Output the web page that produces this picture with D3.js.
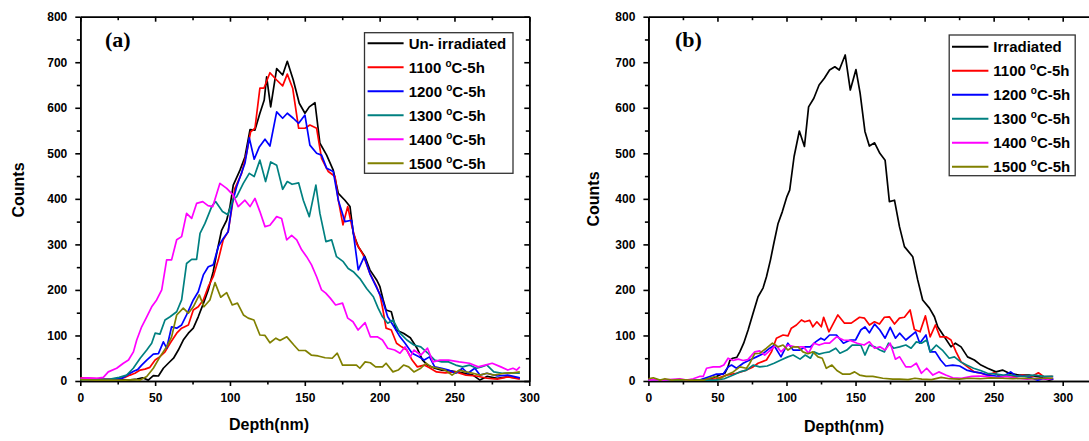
<!DOCTYPE html>
<html>
<head>
<meta charset="utf-8">
<script src="https://cdn.jsdelivr.net/npm/d3@7"></script>
<style>
  body { margin: 0; background: #fff; }
  svg { display: block; font-family: "Liberation Sans", Arial, sans-serif; }
</style>
</head>
<body>
<svg id="chart" width="1089" height="441"></svg>
<script>
/* ── Depth profiles: (a) un-irradiated + annealed, (b) irradiated + annealed ── */

// shared ticks
const xMajor = [0, 50, 100, 150, 200, 250, 300];
const xMinor = [25, 75, 125, 175, 225, 275];
const yMajor = [0, 100, 200, 300, 400, 500, 600, 700, 800];
const yMinor = [50, 150, 250, 350, 450, 550, 650, 750];

const seriesColors = ['#000000', '#ff0000', '#0000ff', '#008080', '#ff00ff', '#808000'];
const annealTemps = ['1100', '1200', '1300', '1400', '1500'];

// panel (a): [depth nm, counts]
const aUnirr = [[0,4],[8,3],[16,2],[24,3],[32,2],[38,4],[41.5,7],[45.4,2],[48.8,12],[52.2,11],[55.5,28],[58.8,39],[62.3,50],[65.5,68],[68.8,90],[72.2,105],[75.5,116],[78.8,141],[82.2,170],[85.5,200],[88.8,240],[91.1,280],[94.4,331],[97.8,353],[100,383],[102.2,430],[106.7,463],[110,492],[113.4,552],[116.7,551],[120,588],[122.9,617],[124.5,668],[127.2,602],[131.2,686],[135.2,672],[138.3,702],[142.3,661],[146.3,610],[150.1,588],[153,602],[156.8,611],[160.1,522],[164.6,496],[169,463],[172.4,412],[176.8,397],[180.2,383],[182.4,324],[185.7,295],[190.2,273],[193.5,244],[198,222],[200.2,207],[202.4,178],[204.3,156],[207.8,152],[211,112],[215.9,105],[220.5,95],[225,72],[228.7,46],[232,35],[236.8,28],[241.5,24],[248.4,22],[255.4,18],[262.4,13],[267,2],[271.7,10],[278.6,6],[285.6,9],[293.7,6]];
const a1100 = [[0,7],[5,6],[10,5],[15,4],[20,4],[25,5],[30,8],[33.2,13],[36.5,17],[40,24],[43.2,26],[46.5,30],[50,46],[53,53],[56.6,64],[60,83],[64.4,105],[67.7,116],[72.2,123],[75.5,156],[78.8,163],[82.2,178],[85.5,207],[88.8,229],[92.2,266],[95.5,310],[98.8,328],[103.3,423],[107.8,456],[111.1,500],[113.8,547],[116.7,555],[120,643],[122.7,643],[126.7,677],[131.2,661],[135.2,648],[138.3,674],[141.9,643],[145.9,555],[150.1,555],[153.4,562],[157.9,555],[161.2,489],[165.7,460],[170.2,449],[172.4,397],[175.5,343],[178.7,383],[181.5,339],[184.6,302],[189,277],[193.5,236],[198,207],[200.2,189],[202,160],[204.3,116],[207.8,112],[211.3,83],[214.7,75],[218.2,68],[221.7,46],[225.2,31],[229.8,35],[233.3,29],[238,20],[243.8,18],[250.8,20],[257.7,13],[264.7,11],[271.7,6],[278.6,4],[285.6,9],[293.7,4]];
const a1200 = [[0,4],[10,3],[20,3],[28,6],[33.2,17],[36,22],[38.3,25],[41,35],[44.4,46],[48.8,59],[52.2,60],[55.5,86],[57.7,72],[61,119],[64.4,116],[67.7,123],[71,145],[75.5,178],[78.8,196],[82.2,233],[85.5,251],[88.8,255],[92.2,295],[95.5,313],[98.8,328],[101.5,390],[104.5,427],[110,478],[112.9,534],[116.2,487],[119.6,514],[123.4,531],[126.7,516],[131.2,591],[135.2,577],[138.3,588],[142.3,577],[145.9,566],[150.1,584],[153.4,518],[157.9,500],[161.2,496],[164.6,467],[169,460],[172.4,397],[176.8,350],[181.3,353],[185.7,244],[189.7,273],[193.5,236],[198.7,200],[201.9,178],[205.4,141],[208.9,123],[213.6,97],[217,83],[221.7,61],[226.3,53],[229.8,46],[233.3,53],[236.8,31],[241.5,28],[246.1,24],[250.8,17],[255.4,28],[258.9,17],[263.6,28],[267,13],[271.7,17],[278.6,11],[285.6,13],[293.7,7]];
const a1300 = [[0,3],[10,3],[20,4],[26,8],[31,13],[35.4,28],[40,50],[44.4,68],[47.7,83],[50,105],[53.2,103],[56.6,134],[60,141],[64.4,152],[67.7,178],[71,258],[74.4,267],[77.7,267],[80,324],[83.3,346],[87.8,383],[90.4,394],[95,372],[98.6,365],[102,398],[104.5,405],[108.9,434],[112.9,456],[116.2,449],[120,485],[123.8,438],[127.2,481],[131.2,474],[135.2,421],[138.3,438],[141.5,432],[145.9,435],[149,397],[153,361],[157.4,430],[160.1,368],[164.1,306],[167.9,310],[171.2,273],[175.7,262],[179,247],[182.4,240],[186.8,225],[191.3,203],[195.8,185],[199,160],[201.9,141],[205.4,127],[208.9,134],[213.6,105],[218.2,90],[222.9,79],[227.5,75],[232,62],[236.8,46],[241.5,42],[246,42],[250.8,35],[255.4,31],[260,35],[264.7,28],[268,31],[271.7,35],[276.3,20],[282,17],[287.9,18],[293.7,17]];
const a1400 = [[0,6],[5,7],[10.9,6],[15.4,8],[18.7,20],[24.3,28],[28.8,39],[32.2,46],[35.5,64],[37.7,90],[41,119],[44.4,141],[47.7,163],[51,178],[54.4,200],[57.7,266],[61,266],[64.4,310],[67.7,317],[71,368],[74.4,357],[77.7,390],[81.8,394],[85.3,385],[88.5,383],[93.3,434],[97.8,423],[102.2,408],[105.5,383],[110,397],[113.4,383],[116.7,401],[120,372],[123.4,339],[126.7,342],[131.2,361],[134.5,357],[137.9,310],[141.2,320],[144.6,310],[147.9,288],[151.2,273],[154.5,255],[157.9,229],[161.2,200],[164,193],[167,182],[170.6,167],[175.2,171],[178.7,138],[182.2,130],[185.6,112],[190.3,128],[193.8,97],[198.4,97],[201.9,90],[205.4,72],[210,68],[213.6,61],[217,75],[220.5,53],[222.9,68],[227.5,57],[232,72],[235.6,42],[240.3,46],[246.1,46],[253.1,42],[260,39],[265.9,31],[270.5,35],[275.2,39],[281,31],[285.6,24],[289.1,28],[291.5,24],[293.7,31]];
const a1500 = [[0,3],[10,2],[20,2],[30,2],[36,3],[40,2],[44.4,10],[48.8,28],[53.2,53],[57.7,75],[61,97],[64.4,145],[68.8,160],[72.2,149],[75.5,163],[79.5,189],[82.6,163],[86.6,178],[90,216],[93.8,184],[97.8,194],[101.5,167],[105,171],[109,145],[112.2,138],[116,134],[120,101],[123.4,100],[126.7,84],[130.7,94],[133.4,89],[138,97],[142.7,79],[146,67],[150.4,67],[154.3,57],[158.9,55],[163.6,51],[168.3,50],[171.7,61],[175.2,35],[179.9,35],[184.5,35],[186.8,28],[190.3,42],[193.8,40],[197.3,31],[201.9,31],[204.3,39],[208.9,20],[212.4,24],[216,35],[219.4,31],[222.9,20],[227.5,28],[231,39],[234.5,31],[239.2,28],[243.8,24],[248.4,13],[253.1,24],[257.7,20],[262.4,17],[267,13],[271.7,17],[276.3,13],[283.3,17],[289.1,18],[293.7,20]];

// panel (b)
const bIrr = [[0,2],[5,3],[10,1],[15,2],[20,2],[25,1],[30,2],[37,2],[42,4],[46,6],[49.3,10],[52,14],[55.3,17],[57.5,30],[59,45],[61,50],[64,52],[66.2,64],[69,83],[72.2,112],[75.8,149],[79.4,185],[83,204],[85.5,229],[88.4,266],[90.8,302],[93.9,346],[97,372],[100.3,405],[102.3,419],[105.5,493],[109.3,549],[113,515],[116,602],[119.8,621],[123.6,650],[127.4,665],[131.2,683],[135,690],[138.2,683],[142.5,716],[146.2,639],[150.3,684],[153.3,632],[156.8,548],[160,516],[163.8,523],[167.6,500],[171.4,485],[174.5,394],[178.2,397],[181.8,339],[185.4,295],[191.4,273],[195,222],[198.6,178],[203.5,160],[207.1,141],[209.5,119],[214.3,97],[219.1,75],[222.3,83],[226.4,75],[231.1,53],[236,46],[240.8,35],[245.6,28],[251.7,20],[256.4,24],[261.3,17],[268.5,13],[275.7,13],[282.9,9],[290.2,2],[293.1,4]];
const b1100 = [[0,3],[10,2],[20,2],[30,2],[39.7,2],[49.3,5],[56.6,13],[63.8,17],[71,24],[75.8,31],[79.4,39],[85.5,46],[89.1,64],[92.7,94],[97.5,101],[101.1,99],[103.5,116],[107.2,123],[110.8,134],[113.2,130],[116.8,133],[119.1,119],[122,130],[125.2,119],[126.9,140],[130.7,108],[137.2,145],[142,127],[146.9,127],[152.9,140],[156.5,138],[160.1,123],[163.7,130],[167.3,125],[170.9,140],[174.5,141],[178.2,125],[181.8,138],[185.4,140],[189.5,156],[192.6,113],[196.7,108],[200.6,143],[204,97],[207.8,123],[211.2,97],[215.5,97],[219.1,90],[222.8,64],[226.4,42],[231.1,31],[236,20],[240.8,17],[245.6,13],[250.4,18],[255.3,9],[261.3,13],[266.1,9],[270.9,13],[277,9],[282.4,18],[286.6,9],[292.6,10]];
const b1200 = [[0,2],[10,2],[20,2],[30,2],[37,2],[44.5,10],[49.3,15],[54.1,15],[57.7,31],[60.2,35],[63.8,28],[68.6,39],[73.4,46],[78.3,53],[83,60],[87.9,72],[91,78],[96,53],[101,83],[104.8,68],[109.8,68],[113.6,75],[117.3,75],[121.1,86],[124.9,94],[127.4,90],[131.2,101],[136.2,101],[141.2,83],[146.2,90],[150,90],[153.8,112],[156.8,119],[160,106],[163.8,125],[167.6,112],[171.4,94],[175.1,118],[178.9,94],[181.9,105],[186.4,90],[193.5,108],[196.5,83],[201,101],[204,64],[207.8,64],[211.6,46],[215.3,33],[220.4,35],[225.4,33],[230.4,24],[235.4,20],[240.5,18],[245.5,13],[251.8,11],[256.8,10],[262.3,20],[266.8,10],[271.9,11],[276.9,7],[281.9,2],[286.9,6],[293.2,4]];
const b1300 = [[0,2],[10,2],[20,2],[30,2],[40,2],[48.6,2],[55,5],[61.4,13],[66.2,20],[71,24],[75.8,35],[80.6,31],[86,33],[91,39],[96,46],[101,53],[104.8,57],[109.8,48],[113.6,57],[117.3,50],[119.8,64],[123.6,59],[127.4,62],[131.2,64],[135.7,72],[138.7,61],[143.7,68],[147.5,79],[153.8,79],[156.8,57],[160,79],[163.8,75],[167.6,68],[170.9,64],[173.9,83],[177.6,72],[181.9,75],[186.4,79],[190.2,72],[194,86],[197.7,83],[201.5,90],[204,64],[208.5,79],[212.8,68],[217.8,50],[221.6,53],[226.1,42],[230.4,35],[235.4,28],[240.5,23],[245.5,17],[251.8,15],[256.8,13],[262,13],[266.8,11],[273.1,10],[279.4,13],[286.9,10],[293.2,10]];
const b1400 = [[0,2],[5,3],[10,2],[15,3],[22.8,5],[27.7,2],[32.5,5],[37,10],[39.7,10],[42.1,28],[46.9,31],[51.7,31],[54.6,35],[57.7,50],[61.4,45],[65,48],[68.6,45],[72,47],[77,64],[80.6,66],[84.2,57],[88.4,68],[92.2,79],[96,64],[101,79],[106.1,75],[112.3,75],[116,61],[119.8,83],[123.6,79],[127.4,83],[131.2,83],[136.2,97],[141.2,90],[146.2,89],[151.2,83],[156.2,79],[160,86],[163.8,72],[167.6,75],[171.4,68],[175.1,83],[178.9,48],[181.9,53],[186.4,31],[190.2,31],[194,39],[197.7,17],[201.5,28],[206,13],[210.3,20],[215.3,13],[220.4,7],[226.6,6],[234.2,10],[239.2,11],[244.2,10],[251.8,7],[259.3,10],[266.8,6],[274.4,4],[281.9,6],[289.4,4],[293.2,6]];
const b1500 = [[0,5],[3.5,7],[8.4,2],[12,5],[16.8,2],[22,3],[30,2],[40,2],[48.1,10],[51.7,5],[56.6,13],[61.4,20],[66.2,31],[71,28],[73.4,39],[77,60],[80.6,61],[85.5,72],[89.8,83],[93.9,75],[97.5,79],[101.1,68],[104.7,75],[108.3,75],[111.9,64],[115.5,60],[119.1,64],[122.8,53],[125.9,50],[128.8,28],[132.9,35],[136.5,23],[140.8,15],[145.7,15],[149.3,20],[152.9,13],[157.7,10],[162.5,10],[169.7,6],[177,4],[181.8,4],[188,3],[193,6],[198,4],[205,3],[212,8],[218,5],[225,4],[232,6],[240,5],[248,7],[256,6],[264,5],[272,6],[280,5],[287,6],[293,6]];

const svg = d3.select('#chart');

drawPanel({
  tag: '(a)', tagX: 105,
  xDomain: [0, 300], xRange: [80.3, 529.3], rightAxis: true,
  series: [aUnirr, a1100, a1200, a1300, a1400, a1500],
  firstName: 'Un- irradiated',
  legend: { x: 364.5, y: 32.7, w: 148.5, h: 140.6, row0: 43.3, lineX: 367.6, lineW: 36, textX: 408.7 },
  yTitle: { x: 18, y: 190 },
  xTitle: { x: 269, y: 430 }
});

drawPanel({
  tag: '(b)', tagX: 675,
  xDomain: [0, 330], xRange: [648.4, 648.4 + 330 * 1.381], rightAxis: false,
  series: [bIrr, b1100, b1200, b1300, b1400, b1500],
  firstName: 'Irradiated',
  legend: { x: 949.2, y: 35, w: 126, h: 140.7, row0: 46.7, lineX: 952, lineW: 36.4, textX: 993.3 },
  yTitle: { x: 593.6, y: 199 },
  xTitle: { x: 844, y: 432 }
});

function drawPanel(cfg) {
  const x = d3.scaleLinear().domain(cfg.xDomain).range(cfg.xRange);
  const y = d3.scaleLinear().domain([0, 800]).range([381, 16.7]);
  const [x0, x1] = cfg.xRange;
  const g = svg.append('g');

  const styleAxis = sel => {
    sel.selectAll('path, line').attr('stroke', '#000').attr('stroke-width', 1.6);
    sel.selectAll('text')
      .attr('fill', '#000')
      .attr('font-family', '"Liberation Sans", Arial, sans-serif')
      .attr('font-size', 12)
      .attr('font-weight', 'bold');
  };

  // bottom axis (ticks out)
  g.append('g').attr('transform', 'translate(0,381)')
    .call(d3.axisBottom(x).tickValues(xMajor).tickSize(5).tickSizeOuter(0).tickPadding(7))
    .call(styleAxis);
  g.append('g').attr('transform', 'translate(0,381)')
    .call(d3.axisBottom(x).tickValues(xMinor).tickSize(3.5).tickSizeOuter(0).tickFormat(''))
    .call(styleAxis);

  // top axis (ticks in)
  g.append('g').attr('transform', `translate(0,${y(800)})`)
    .call(d3.axisTop(x).tickValues(xMajor).tickSize(-5).tickSizeOuter(0).tickFormat(''))
    .call(styleAxis);
  g.append('g').attr('transform', `translate(0,${y(800)})`)
    .call(d3.axisTop(x).tickValues(xMinor).tickSize(-3.5).tickSizeOuter(0).tickFormat(''))
    .call(styleAxis);

  // left axis (ticks out)
  g.append('g').attr('transform', `translate(${x0},0)`)
    .call(d3.axisLeft(y).tickValues(yMajor).tickSize(5).tickSizeOuter(0).tickPadding(8))
    .call(styleAxis);
  g.append('g').attr('transform', `translate(${x0},0)`)
    .call(d3.axisLeft(y).tickValues(yMinor).tickSize(3.5).tickSizeOuter(0).tickFormat(''))
    .call(styleAxis);

  // right axis (ticks in)
  if (cfg.rightAxis) {
    g.append('g').attr('transform', `translate(${x1},0)`)
      .call(d3.axisRight(y).tickValues(yMajor).tickSize(-5).tickSizeOuter(0).tickFormat(''))
      .call(styleAxis);
    g.append('g').attr('transform', `translate(${x1},0)`)
      .call(d3.axisRight(y).tickValues(yMinor).tickSize(-3.5).tickSizeOuter(0).tickFormat(''))
      .call(styleAxis);
  }

  // data lines
  const line = d3.line().x(d => x(d[0])).y(d => y(d[1]));
  cfg.series.forEach((s, i) => {
    g.append('path')
      .datum(s)
      .attr('d', line)
      .attr('fill', 'none')
      .attr('stroke', seriesColors[i])
      .attr('stroke-width', 1.7)
      .attr('stroke-linejoin', 'round');
  });

  // panel tag
  g.append('text')
    .attr('x', cfg.tagX).attr('y', 47)
    .attr('font-family', '"Liberation Serif", "Times New Roman", serif')
    .attr('font-size', 22).attr('font-weight', 'bold')
    .text(cfg.tag);

  // legend
  const L = cfg.legend;
  g.append('rect')
    .attr('x', L.x).attr('y', L.y).attr('width', L.w).attr('height', L.h)
    .attr('fill', '#fff').attr('stroke', '#333').attr('stroke-width', 1.3);

  const names = [cfg.firstName].concat(annealTemps);
  names.forEach((name, i) => {
    const ry = L.row0 + i * 24;
    g.append('line')
      .attr('x1', L.lineX).attr('x2', L.lineX + L.lineW)
      .attr('y1', ry).attr('y2', ry)
      .attr('stroke', seriesColors[i]).attr('stroke-width', 2);
    const t = g.append('text')
      .attr('x', L.textX).attr('y', ry + 5.5)
      .attr('font-size', 15).attr('font-weight', 'bold').attr('fill', '#000');
    if (i === 0) {
      t.text(name);
    } else {
      t.append('tspan').text(name + ' ');
      t.append('tspan').attr('font-size', 10).attr('dy', -6).text('o');
      t.append('tspan').attr('dy', 6).text('C-5h');
    }
  });

  // axis titles
  g.append('text')
    .attr('transform', `translate(${cfg.yTitle.x},${cfg.yTitle.y}) rotate(-90)`)
    .attr('text-anchor', 'middle').attr('dy', '0.35em')
    .attr('font-size', 16).attr('font-weight', 'bold')
    .text('Counts');

  g.append('text')
    .attr('x', cfg.xTitle.x).attr('y', cfg.xTitle.y)
    .attr('text-anchor', 'middle')
    .attr('font-size', 16).attr('font-weight', 'bold')
    .text('Depth(nm)');
}
</script>
</body>
</html>
